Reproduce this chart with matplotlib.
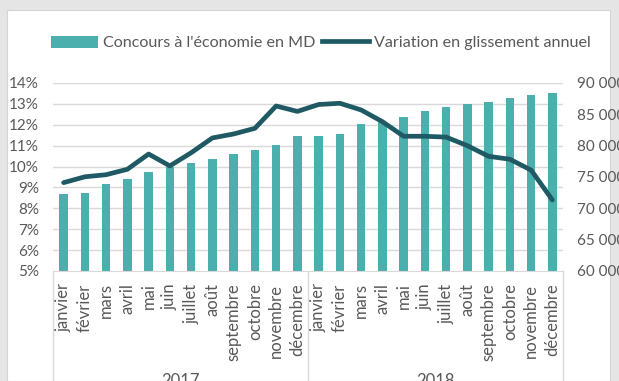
import matplotlib.pyplot as plt
import matplotlib.transforms as mtransforms
from matplotlib.patches import Rectangle, Patch
from matplotlib.lines import Line2D

plt.rcParams['font.family'] = ['Lato', 'DejaVu Sans']

months = ['janvier', 'février', 'mars', 'avril', 'mai', 'juin', 'juillet', 'août',
          'septembre', 'octobre', 'novembre', 'décembre']
years = ['2017', '2018']
labels = months * 2

# concours à l'économie (MD)
concours = [72240, 72400, 73880, 74730, 75750, 76650, 77180, 77920, 78620, 79260, 80110, 81490,
            81600, 81860, 83400, 83780, 84520, 85530, 86120, 86650, 86970, 87550, 88090, 88460]
# glissement annuel (%)
variation = [9.23, 9.51, 9.61, 9.87, 10.60, 10.03, 10.66, 11.37, 11.56, 11.83, 12.90, 12.64,
             12.97, 13.03, 12.71, 12.15, 11.45, 11.45, 11.41, 11.00, 10.49, 10.35, 9.83, 8.40]

bar_color = '#4AAFAD'
line_color = '#1F5964'
text_color = '#595959'
grid_color = '#D9D9D9'

W, H = 619, 381
fig = plt.figure(figsize=(W / 100, H / 100), dpi=100)
fig.patch.set_facecolor('#E5E5E5')
fig.patches.append(Rectangle((7 / W, 0), (610 - 7) / W, 1 - 10 / H, transform=fig.transFigure,
                             facecolor='white', edgecolor='#D4D4D4', linewidth=0.8, zorder=-1))

ax = fig.add_axes([53 / W, 1 - 271 / H, (563 - 53) / W, (271 - 83) / H])
ax.set_facecolor('none')
ax2 = ax.twinx()

x = list(range(len(concours)))
ax.bar(x, concours, width=0.4, color=bar_color, zorder=2)
ax.set_ylim(60000, 90000)
ax.set_xlim(-0.5, len(x) - 0.5)
ax.set_yticks(range(60000, 90001, 5000))
ax.set_yticklabels([f'{v:,}'.replace(',', ' ') for v in range(60000, 90001, 5000)])
ax.yaxis.set_ticks_position('right')
ax.tick_params(axis='y', length=0, pad=10, labelsize=11, labelcolor=text_color)

ax2.plot(x, variation, color=line_color, linewidth=3.4, solid_capstyle='round',
         solid_joinstyle='round', zorder=3)
ax2.set_ylim(5, 14)
pct_ticks = list(range(5, 15))
ax2.set_yticks(pct_ticks)
ax2.set_yticklabels([f'{p}%' for p in pct_ticks])
ax2.yaxis.set_ticks_position('left')
ax2.tick_params(axis='y', length=0, pad=10, labelsize=11, labelcolor=text_color)

# horizontal grid follows the percentage scale, under the bars
grid_tr = mtransforms.blended_transform_factory(ax.transAxes, ax2.transData)
for p in pct_ticks[1:]:
    ax.plot([0, 1], [p, p], transform=grid_tr, color=grid_color, linewidth=1, zorder=1)

for a in (ax, ax2):
    for s in a.spines.values():
        s.set_visible(False)
ax.spines['bottom'].set_visible(True)
ax.spines['bottom'].set_color(grid_color)

ax.set_xticks(x)
ax.set_xticklabels(labels, rotation=90, va='top', ha='center')
ax.tick_params(axis='x', length=0, pad=9, labelsize=12, labelcolor=text_color)

# year groups
sep_tr = mtransforms.blended_transform_factory(ax.transData, ax.transAxes)
for b in (-0.5, 11.5, 23.5):
    ax.plot([b, b], [0, -0.7], transform=sep_tr, color=grid_color, linewidth=1, clip_on=False)
for i, yr in enumerate(years):
    ax.text(i * 12 + 5.5, -0.545, yr, transform=sep_tr, ha='center', va='top',
            fontsize=12, color=text_color)

handles = [Patch(facecolor=bar_color), Line2D([], [], color=line_color, linewidth=3.4)]
fig.legend(handles, ["Concours à l'économie en MD", 'Variation en glissement annuel'],
           loc='center', bbox_to_anchor=(321 / W, 1 - 43 / H), ncol=2, frameon=False,
           fontsize=11.6, handlelength=2.9, handleheight=0.75, handletextpad=0.3,
           columnspacing=0.45, labelcolor=text_color)

fig.savefig('out.png', dpi=100)
